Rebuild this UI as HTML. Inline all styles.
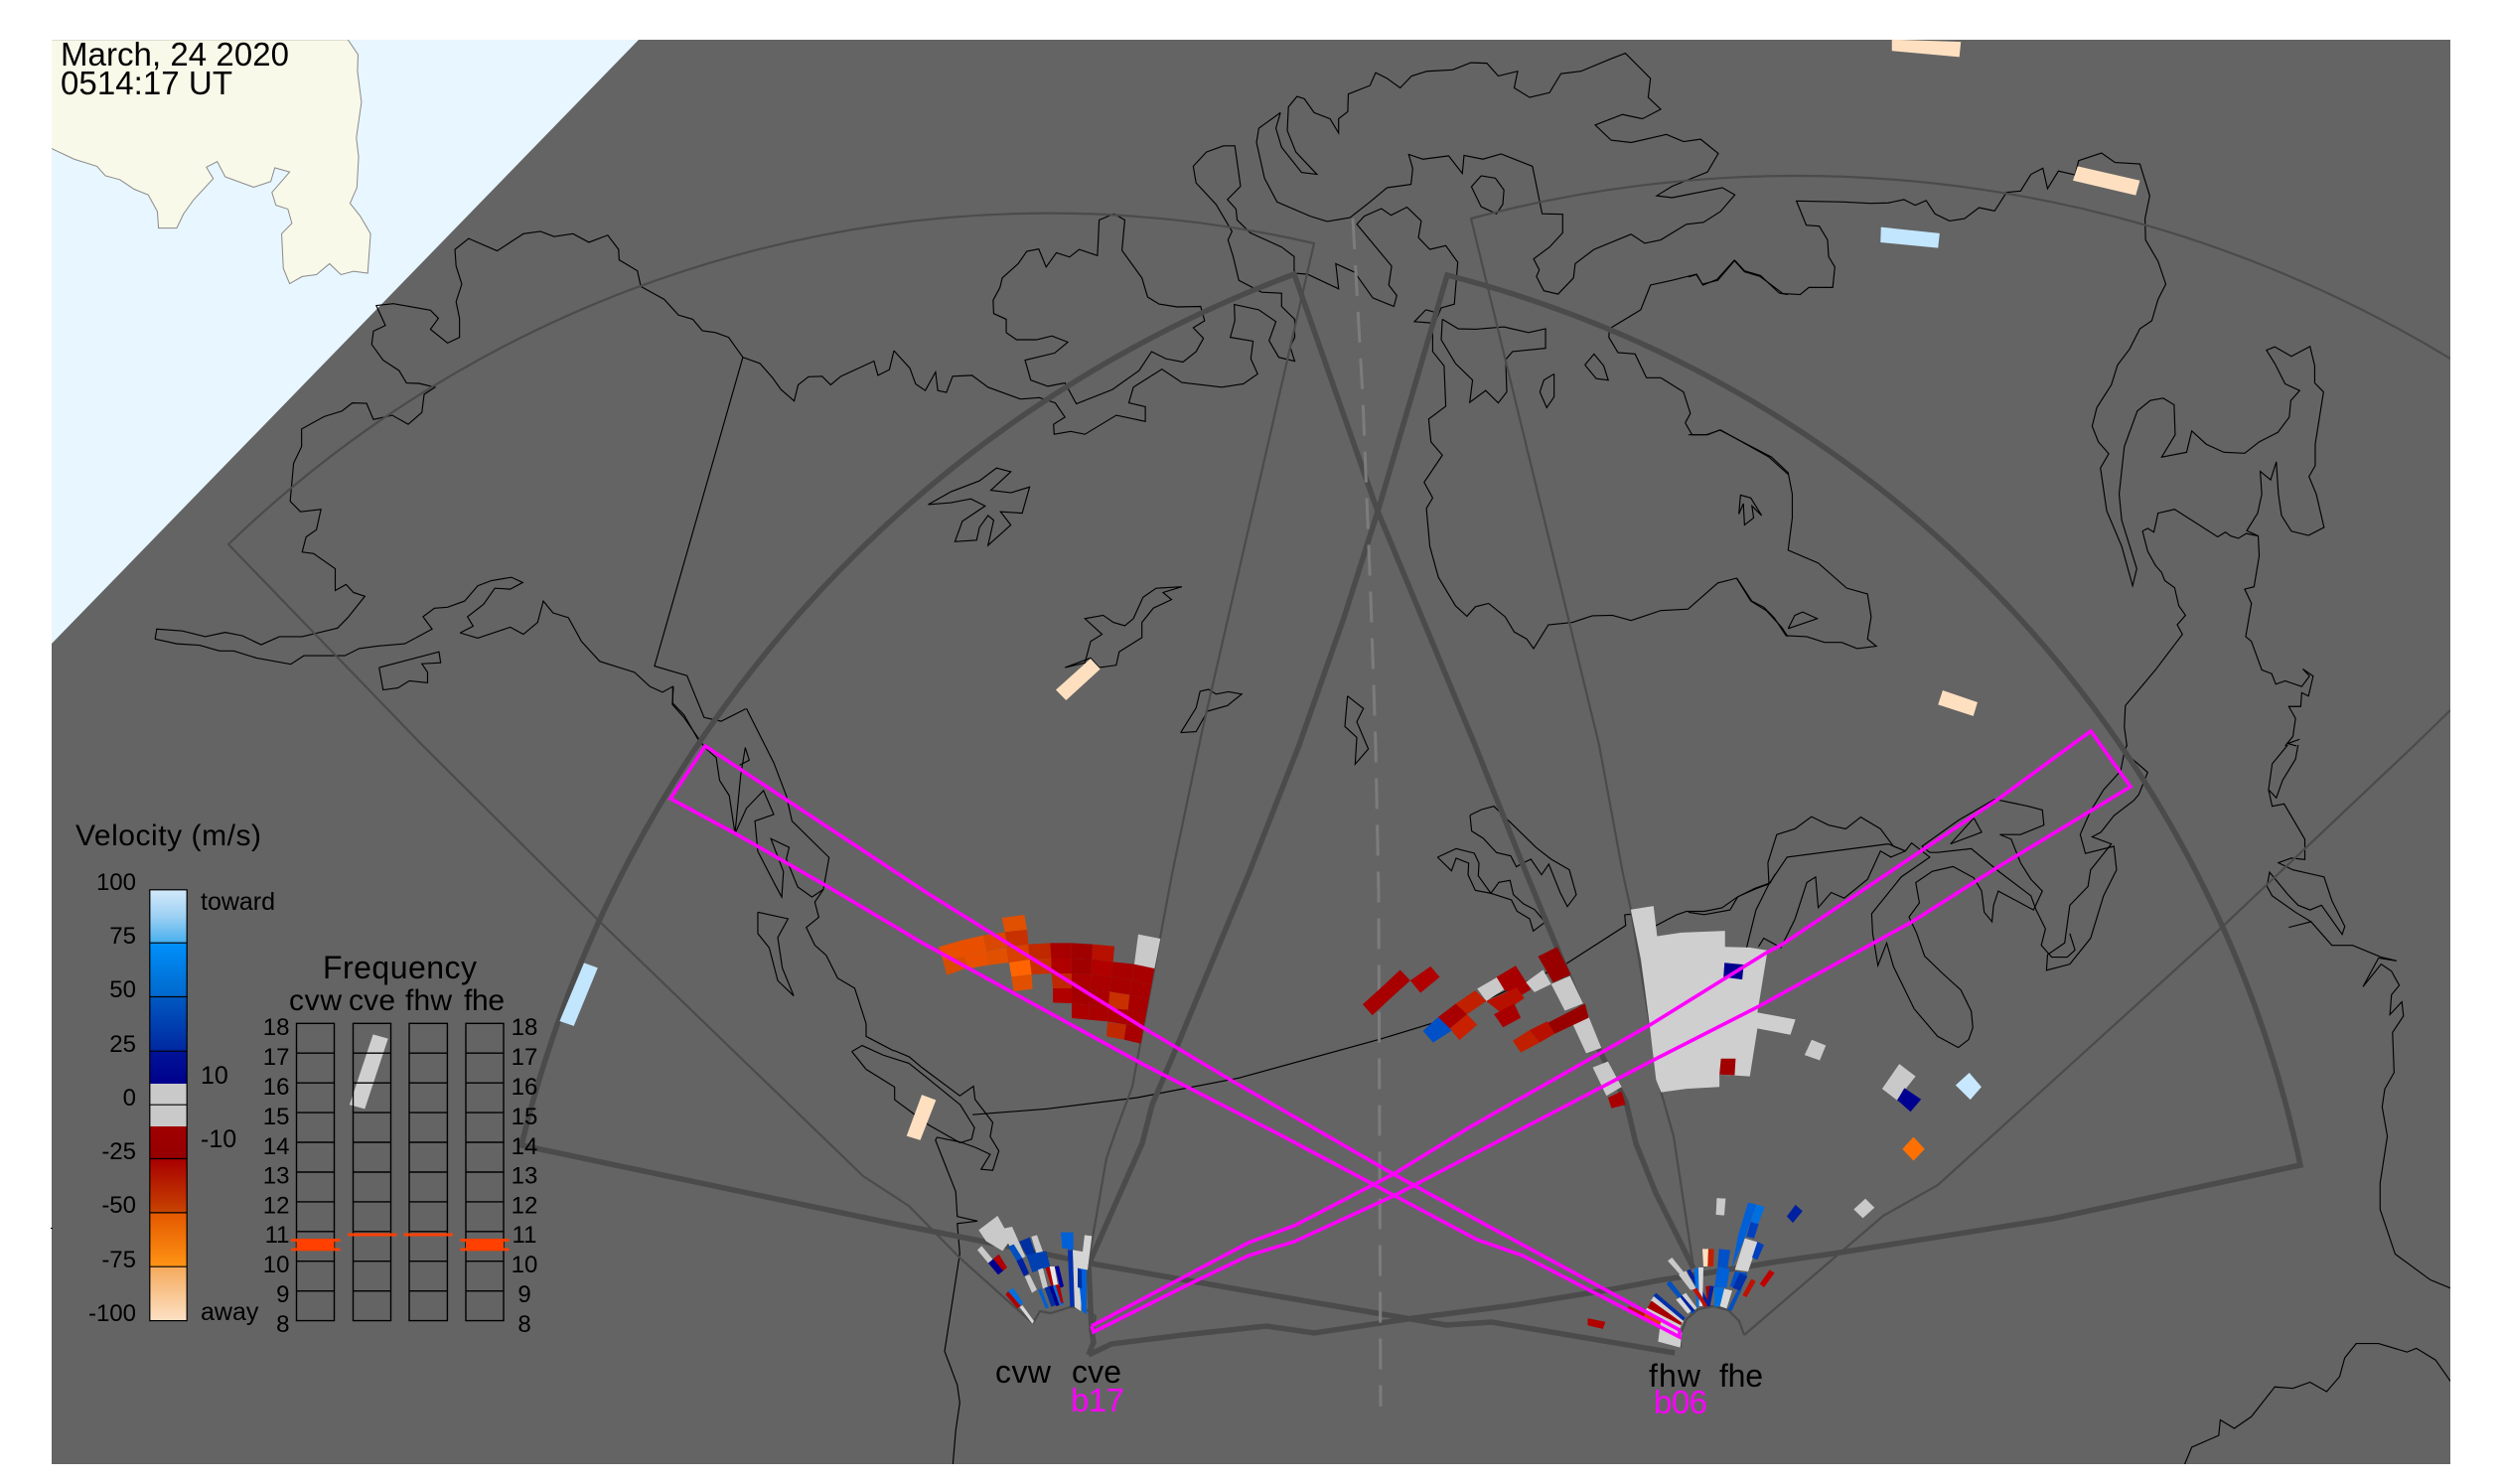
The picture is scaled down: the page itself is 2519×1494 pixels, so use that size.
<!DOCTYPE html>
<html><head><meta charset="utf-8"><title>SuperDARN velocity map</title>
<style>
html,body{margin:0;padding:0;background:#fff}
svg{display:block;font-family:"Liberation Sans",sans-serif}
.c polyline{fill:none;stroke:#000;stroke-width:1.15;vector-effect:non-scaling-stroke;stroke-linejoin:miter}
.thin{fill:none;stroke:#4b4b4b;stroke-width:2.2;stroke-linejoin:round}
.thick{fill:none;stroke:#4b4b4b;stroke-width:5.5;stroke-linejoin:miter}
.mg{fill:none;stroke:#ff00ff;stroke-width:3.6;stroke-linejoin:miter}
.g{fill:#c9c9c9}
text{fill:#000}
</style></head><body>
<svg xmlns="http://www.w3.org/2000/svg" width="2519" height="1494" viewBox="0 0 2519 1494">
<defs>
<clipPath id="plot"><rect x="52" y="40" width="2415" height="1434"/></clipPath>
<linearGradient id="g1" x1="0" y1="0" x2="0" y2="1"><stop offset="0" stop-color="#d2e9fa"/><stop offset=".5" stop-color="#9dd0f3"/><stop offset="1" stop-color="#48b0ee"/></linearGradient>
<linearGradient id="g2" x1="0" y1="0" x2="0" y2="1"><stop offset="0" stop-color="#0090fb"/><stop offset="1" stop-color="#0068cc"/></linearGradient>
<linearGradient id="g3" x1="0" y1="0" x2="0" y2="1"><stop offset="0" stop-color="#0058c0"/><stop offset="1" stop-color="#0028a0"/></linearGradient>
<linearGradient id="g4" x1="0" y1="0" x2="0" y2="1"><stop offset="0" stop-color="#001498"/><stop offset="1" stop-color="#00008c"/></linearGradient>
<linearGradient id="g5" x1="0" y1="0" x2="0" y2="1"><stop offset="0" stop-color="#a00000"/><stop offset="1" stop-color="#960000"/></linearGradient>
<linearGradient id="g6" x1="0" y1="0" x2="0" y2="1"><stop offset="0" stop-color="#a80000"/><stop offset="1" stop-color="#c84400"/></linearGradient>
<linearGradient id="g7" x1="0" y1="0" x2="0" y2="1"><stop offset="0" stop-color="#e45800"/><stop offset="1" stop-color="#ff9414"/></linearGradient>
<linearGradient id="g8" x1="0" y1="0" x2="0" y2="1"><stop offset="0" stop-color="#f5a95c"/><stop offset="1" stop-color="#fde2c6"/></linearGradient>
</defs>
<rect width="2519" height="1494" fill="#fff"/>
<rect x="52" y="40" width="2415" height="1434" fill="#646464"/>
<rect x="51" y="1236" width="2" height="1" fill="#000"/>
<g clip-path="url(#plot)">
<polygon points="52,40 643,40 52,648" fill="#e8f6ff"/>
<!-- Z4 -->
<g transform="scale(.57398,.47832)">
<polygon fill="#f9f9ea" stroke="#8a8a8a" stroke-width="1" vector-effect="non-scaling-stroke" points="610,83 628,115 627,150 634,215 625,290 629,330 626,395 614,428 632,455 650,492 645,575 620,571 598,578 578,555 555,578 530,582 508,597 497,565 494,492 512,470 505,440 484,432 477,405 508,362 482,353 475,382 445,394 395,372 381,340 362,352 374,376 340,420 322,450 310,480 278,480 276,445 260,410 235,398 210,378 185,370 170,350 130,335 91,313 60,300 60,83"/>
<g class="c">
<polyline points="272,1345 275,1324 320,1328 360,1340 395,1331 425,1338 458,1357 490,1340 530,1340 592,1322 610,1300 640,1255 620,1247 607,1230 588,1243 588,1197 550,1165 530,1162 537,1130 555,1115 563,1072 527,1077 509,1055 515,975 529,940 529,903 568,877 600,865 618,848 643,849 655,883 688,874 716,893 740,868 744,830 763,815 735,807 713,806 700,780 672,758 652,725 655,697 676,685 660,643 690,639 755,653 769,670 755,693 785,722 806,710 806,670 800,635 810,598 800,560 798,525 822,502 872,528 918,492 948,487 972,498 1005,492 1033,510 1066,495 1085,525 1086,547 1118,570 1124,603 1165,630 1190,663 1215,672 1232,696 1255,700 1278,710 1303,752 1333,765 1355,795 1370,820 1393,844 1400,810 1418,793 1442,792 1457,810 1475,792 1533,760 1540,790 1560,778 1568,738"/>
<polyline points="807,1332 830,1318 820,1298 848,1272 868,1238 895,1240 917,1226 897,1215 862,1222 838,1233 815,1265 785,1278 762,1280 742,1298 758,1324 710,1355 660,1360 630,1365 605,1380 533,1380 510,1398 450,1385 410,1370 385,1370 350,1358 310,1355 272,1345"/>
<polyline points="807,1332 838,1343 895,1320 918,1335 943,1310 953,1265 970,1290 997,1300 1020,1350 1052,1392 1113,1415 1140,1445 1162,1457 1180,1445 1180,1480 1200,1505 1230,1568"/>
<polyline points="1303,752 1148,1402 1205,1422 1235,1510 1265,1518 1308,1492"/>
<polyline points="665,1405 770,1372 773,1395 740,1397 750,1415 750,1437 718,1433 698,1448 672,1452 665,1405"/>
</g></g>
<!-- Z5 -->
<g transform="translate(900,0) scale(.57398,.47832)" class="c">
<polyline points="386,450 360,463 357,538 325,525 308,541 285,532 267,562 254,524 233,529 218,555 190,585 186,605 174,632 175,660 197,672 197,700 215,715 250,715 277,707 305,720 282,743 230,758 240,800 270,813 300,806 320,850 383,820 430,780 452,740 477,755 507,762 530,740 543,712 525,690 545,675 538,645 497,646 465,640 445,625 435,585 400,527 405,463 386,450"/>
<polyline points="0,738 28,775 38,808 55,822 73,783 77,822 92,826 103,792 137,790 165,815 222,840 255,837 283,848 300,878 280,893 281,914 310,908 335,914 390,874 441,887 441,856 412,848 420,815 470,777 505,805 575,815 613,808 638,787 626,755 630,718 590,710 598,675 597,641 640,652 670,677 658,717 675,752 703,760 695,730 703,710 703,672 680,645 680,617 645,615 605,590 595,540 586,505 593,487 565,430 530,385 525,350 548,320 578,307 598,307 608,392 585,420 600,440 602,463 625,490 680,520 702,540 702,575 725,577 780,608 775,555 808,573 840,627 877,645 882,622 868,600 873,560 812,472 825,455 855,439 872,453 900,436 925,465 920,500 940,525 968,517 989,552 983,640 960,648 945,690 945,740 965,770 968,855 938,882 942,930 962,958 930,1015 945,1048 934,1070 940,1150 955,1215 985,1275 1005,1297 1020,1277 1043,1270 1072,1298 1088,1330 1110,1345 1122,1365 1148,1315 1190,1310 1225,1296 1260,1295 1293,1306 1345,1285 1393,1282 1445,1227 1478,1217 1503,1265 1530,1285 1557,1320 1568,1340"/>
<polyline points="678,237 640,270 636,300 650,375 672,425 730,455 760,466 800,458 835,425 865,395 907,388 910,355 903,325 928,335 973,328 997,365 1000,327 1033,335 1065,324 1120,350 1137,450 1173,451 1173,490 1150,520 1122,545 1132,568 1127,582 1140,612 1165,619 1192,585 1195,555 1228,525 1293,493 1317,512 1345,505 1390,472 1420,468 1450,445 1475,410 1453,395 1365,416 1338,412 1365,392 1427,362 1446,323 1415,293 1385,298 1355,283 1293,300 1258,295 1230,263 1278,241 1313,250 1345,230 1323,205 1327,165 1283,112 1255,125 1205,150 1170,155 1150,195 1115,205 1088,185 1094,150 1060,160 1040,133 1012,132 980,147 935,150 908,160 888,185 865,165 845,153 835,180 797,198 796,235 780,250 780,280 765,250 737,237 720,208 707,203 692,225 690,275 705,320 742,367 715,363 680,310 670,270 678,237"/>
<polyline points="1030,370 1055,375 1070,400 1068,430 1057,450 1030,435 1013,393 1030,370"/>
<polyline points="1212,768 1228,745 1245,770 1253,800 1232,797 1212,768"/>
<polyline points="1158,787 1158,835 1145,858 1133,825 1140,800 1158,787"/>
<polyline points="933,652 948,657 945,680 913,677 933,652"/>
<polyline points="962,672 990,692 1020,693 1070,688 1113,700 1143,692 1143,733 1085,740 1073,757 1075,825 1060,848 1038,822 1010,847 1015,800 985,765 960,715 962,672"/>
<polyline points="1388,890 1397,870 1385,825 1345,795 1320,795 1300,745 1270,742 1254,710 1255,692 1310,652 1327,600 1365,590 1408,577 1418,598 1445,590 1475,548 1492,570 1520,580 1553,617 1568,620"/>
<polyline points="1388,890 1400,915 1425,915 1450,905 1535,962 1568,998"/>
<polyline points="1482,1082 1485,1042 1503,1048 1522,1085 1505,1065 1508,1090 1492,1105 1490,1060 1482,1082"/>
<polyline points="60,1062 100,1035 150,1012 180,985 205,993 170,1032 205,1037 238,1025 225,1080 187,1077 205,1105 165,1148 175,1095 165,1085 150,1110 145,1137 107,1140 120,1097 160,1065 135,1050 100,1058 60,1062"/>
<polyline points="300,1405 335,1395 345,1350 365,1335 335,1302 367,1295 385,1310 405,1317 420,1302 437,1257 460,1238 505,1235 472,1247 487,1262 455,1280 435,1310 435,1342 395,1372 390,1400 360,1405 345,1385 300,1405"/>
<polyline points="503,1542 530,1490 537,1455 552,1451 565,1461 587,1456 610,1461 585,1485 550,1497 530,1540 503,1542"/>
</g>
<!-- Z6 -->
<g transform="translate(1700,0) scale(.52232,.47832)" class="c">
<polyline points="93,1217 122,1265 145,1278 165,1300 188,1338 228,1340 262,1352 295,1352 325,1365 362,1360 345,1345 352,1298 345,1250 305,1238 250,1185 192,1158 200,1090 200,1040 192,995 160,962 60,905 37,915 0,915"/>
<polyline points="192,1323 205,1295 220,1288 248,1302 192,1323"/>
<polyline points="0,583 15,578 28,600 55,588 88,548 108,572 138,582 182,618 215,620 232,605 278,605 282,562 270,540 268,505 252,476 227,474 208,423 300,425 350,428 385,427 415,420 437,432 458,422 475,450 503,465 532,460 560,437 590,444 613,405 640,402 660,367 683,354 692,397 713,360 745,368 752,338 796,322 822,342 870,345 889,412 880,460 881,505 905,550 920,598 905,630 893,675 870,692 850,735 827,768 815,810 787,858 778,897 790,930 810,955 794,985 806,1075 835,1150 856,1233 864,1197 835,1095 830,1040 840,940 865,865 890,843 915,838 936,852 938,915 912,962 960,952 970,907 998,935 1032,952 1072,954 1100,930 1136,910 1158,878 1161,843 1178,822 1150,808 1130,765 1114,737 1130,730 1162,750 1198,729 1207,770 1207,806 1224,825 1208,935 1208,980 1196,1003 1210,1040 1225,1110 1195,1127 1162,1118 1143,1085 1137,1040 1133,972 1122,1010 1102,992 1105,1040 1097,1080 1076,1117 1098,1128"/>
<polyline points="875,1118 885,1112 897,1120 905,1080 937,1072 1020,1130 1035,1120 1045,1128 1060,1133 1075,1123 1098,1128 1100,1170 1090,1235 1072,1240 1085,1270 1074,1340 1085,1350 1105,1410 1124,1418 1132,1440 1150,1433 1182,1445 1197,1423 1184,1408 1204,1423 1195,1465 1182,1458 1180,1487 1157,1487 1170,1512 1165,1550 1150,1570"/>
<polyline points="875,1118 885,1160 900,1190 912,1205 918,1222 937,1237 945,1275 958,1295 942,1315 952,1335 900,1410 860,1462 842,1485 840,1530 845,1570"/>
<polyline points="1178,1556 1155,1565 1172,1570"/>
</g>
<!-- Z7 -->
<g transform="translate(1700,750) scale(.52232,.47449)" class="c">
<polyline points="0,355 30,360 80,350 95,322 130,305 155,295 153,250 170,190 205,178 237,152 270,170 303,178 332,153 370,178 395,215 418,225"/>
<polyline points="112,430 130,350 155,295 190,238 385,210 418,225 430,208 465,238 410,280 353,358 355,400 365,468 382,420 395,470 435,560 480,618 520,642 540,625 548,600 545,565 525,520 490,485 455,448 440,400 425,365 445,335 438,292 470,268 510,258 550,282 565,310 570,355 585,375 588,340 597,310 665,350 682,310 660,285 640,250 622,200 600,190 640,190 685,170 682,138 655,130 590,115 520,160 450,215 465,228 480,228 545,220 600,270 660,320 670,350 688,390 680,425 700,450 730,450 745,435 735,400"/>
<polyline points="418,225 390,238 370,225 345,285 300,325 275,313 250,345 245,280 228,292 205,370 178,430 145,410 135,428"/>
<polyline points="550,155 565,185 505,210 550,155"/>
<polyline points="845,0 840,15 885,58 868,105 858,118 820,150 795,185 778,195 815,210 775,265 770,300 735,340 725,420 692,445 690,478 735,465 775,410 800,320 825,265 820,215 765,230 755,190 775,140 800,95 833,55 840,15"/>
<polyline points="1155,0 1125,40 1118,95 1125,130 1148,125 1188,200 1188,243 1162,240 1137,250 1165,265 1225,280 1240,330 1265,385 1260,402 1220,340 1198,350 1175,340 1155,317 1120,270 1115,300 1125,320 1170,355 1200,375 1157,387 1200,375 1240,425 1280,425 1335,450 1365,458 1330,452 1300,513 1335,465 1355,480 1370,510 1355,530 1352,572 1375,545 1378,575 1357,610 1360,695 1342,730 1337,768 1347,830 1333,930 1333,985 1362,1080 1430,1135 1470,1153"/>
<polyline points="1175,0 1170,30 1145,75 1133,112 1118,95"/>
<polyline points="956,1527 970,1490 1022,1465 1025,1432 1052,1450 1085,1425 1130,1362 1165,1365 1198,1352 1230,1372 1255,1340 1265,1300 1287,1270 1330,1270 1385,1288 1403,1280 1440,1305 1470,1352"/>
</g>
<!-- Z8 -->
<g transform="translate(100,500) scale(.57398,.5102)" class="c">
<polyline points="1007,375 1005,410 1025,435 1062,495 1082,515 1088,560 1105,590 1115,665 1125,550 1133,495 1140,520 1123,530"/>
<polyline points="1115,665 1135,615 1165,580 1183,627 1150,640 1155,700 1185,765 1197,790 1200,740 1178,675 1210,692 1205,715 1225,770 1250,790 1270,775 1280,712 1215,640 1205,590 1183,525 1135,418"/>
<polyline points="1270,775 1255,800 1262,830 1240,850 1255,885 1275,905 1295,950 1325,970 1345,1040 1345,1065 1394,1094"/>
<polyline points="1155,820 1208,833 1190,870 1198,930 1218,985 1190,955 1175,890 1155,862 1155,820"/>
<polyline points="1320,1095 1338,1083 1375,1102 1420,1118 1450,1145 1510,1200 1535,1245 1530,1268 1510,1275 1455,1240 1395,1190 1395,1165 1345,1130 1320,1095"/>
</g>
<!-- Z2 -->
<g transform="translate(900,880) scale(.5102,.35714)" class="c">
<polyline points="0,497 30,515 55,545 130,625 157,598 160,635 195,700 190,740 207,780 195,835 172,832 190,790 160,770 130,755 85,742 82,750 122,895 125,965 165,978 125,985 130,1070 100,1345 125,1440 130,1490 122,1568 116,1670"/>
<polyline points="155,678 300,662 480,630 680,575 960,465 1075,415"/>
</g>
<!-- Z3 -->
<g transform="translate(1300,880) scale(.5102,.35714)" class="c">
<polyline points="291,415 540,255 660,145 658,115 668,113 720,145 760,115 780,105 815,105 850,95 880,65 915,40 945,25 955,0"/>
</g>
<!-- Z11 -->
<g transform="translate(1340,690) scale(.33333)" class="c">
<polyline points="420,392 455,375 492,365 540,412 620,490 665,525 720,557 741,632 714,668 692,625 658,540 636,572 604,525 573,540 560,548 543,515 500,505 460,462 425,440 420,392"/>
<polyline points="322,519 378,493 433,507 447,537 445,575 483,628 507,595 541,589 551,632 582,660 615,677 647,715 611,742 600,705 562,682 545,648 483,628 436,619 414,572 416,537 378,522 364,560 322,519"/>
<polyline points="50,32 98,70 78,110 113,192 73,238 78,157 42,124 50,32"/>
</g>

<!-- thin FOVs -->
<path class="thin" d="M1096,1269 L1114,1166 1124,1137 1140,1094 1180,880 1210,737 1323,245 A1190,1190 0 0 0 230,548 L425,750 605,929 869,1184 915,1214 966,1266 1015,1310 1040,1332"/>
<polyline class="thin" points="1040,1332 1047,1320 1057,1322 1058,1322 1077,1316 1090,1316 1103,1325 1101,1339 1100,1350"/>
<path class="thin" d="M1705,1276 L1685,1144 1672,1098 1642,916 1634,880 1610,750 1481,220 A1270,1270 0 0 1 2467,361"/>
<polyline class="thin" points="1756,1344 1896,1224 1951,1193 2230,940 2431,750 2467,715"/>
<polyline class="thin" points="1692,1357 1692,1343 1698,1328 1710,1318 1725,1315 1740,1319 1751,1330 1756,1344"/>
<!-- thick FOVs -->
<path class="thick" d="M1686,1362 L1502,1331 1456,1334 1275,1303 1104,1273 966,1245 900,1232 525,1153 A1250,1250 0 0 1 1303,276 L1386,512 1485,750 1537,880 1611,1059 1637,1109 1647,1151 1667,1201 1705,1277"/>
<path class="thick" d="M1096,1364 L1101,1351 1099,1339 1096,1273 1150,1151 1160,1112 1186,1051 1257,880 1308,750 1353,622 1388,512 1457,277 A1175,1175 0 0 1 2316,1173 L2066,1227 1846,1262 1790,1270 1710,1283 1670,1289 1623,1298 1524,1314 1423,1327 1323,1342 1275,1335 1191,1344 1119,1353 1096,1364"/>
<!-- dashed -->
<polyline points="1362,220 1372,400 1380,600 1385,750 1388,900 1390,1416" fill="none" stroke="#7c7c7c" stroke-width="3" stroke-dasharray="31 16"/>
</g>

<!-- Small data Z-groups -->
<g transform="translate(900,0) scale(.57398,.47832)"><polygon points="345,1386 362,1408 302,1474 284,1452" fill="#fee0c1"/></g>
<g transform="translate(1700,0) scale(.52232,.47832)">
<polygon points="392,83 525,88 522,120 392,107" fill="#fee0c1"/>
<polygon points="750,350 870,380 862,411 741,380" fill="#fee0c1"/>
<polygon points="371,478 484,491 481,522 370,510" fill="#c3e6ff"/>
<polygon points="490,1453 557,1478 549,1507 481,1483" fill="#fee0c1"/>
</g>
<g transform="translate(900,880) scale(.5102,.35714)"><polygon points="55,622 83,637 52,750 25,738" fill="#fee0c1"/></g>
<g transform="translate(0,780) scale(.39541,.38265)"><polygon points="1487,495 1522,508 1461,661 1425,648" fill="#c3e6ff"/></g>

<!-- Z12 red patch -->
<g transform="translate(930,900) scale(.33333)">
<polygon fill="#e85000" points="45,160 115,140 125,188 60,205"/>
<polygon fill="#d84c00" points="58,200 125,188 135,222 70,245"/>
<polygon fill="#e85000" points="115,140 180,125 190,172 122,188"/>
<polygon fill="#e85000" points="122,188 190,172 195,215 135,225"/>
<polygon fill="#d84800" points="180,125 245,115 255,160 190,172"/>
<polygon fill="#e05000" points="190,172 250,162 257,207 195,215"/>
<polygon fill="#e05000" points="236,72 304,63 312,108 245,115"/>
<polygon fill="#c83000" points="245,115 312,108 316,152 255,160"/>
<polygon fill="#d84000" points="250,162 316,152 322,198 257,207"/>
<polygon fill="#ff6400" points="258,207 322,198 326,243 265,250"/>
<polygon fill="#e05000" points="265,250 326,243 329,287 272,294"/>
<polygon fill="#c02800" points="316,152 382,148 385,195 320,197"/>
<polygon fill="#c83000" points="320,197 385,195 386,240 326,243"/>
<polygon fill="#a80000" points="382,148 446,148 446,195 385,195"/>
<polygon fill="#a00000" points="446,148 510,152 508,197 446,195"/>
<polygon fill="#b81000" points="510,152 576,158 572,205 508,197"/>
<polygon fill="#b00000" points="385,195 446,195 447,240 386,240"/>
<polygon fill="#a00000" points="446,195 508,197 505,243 447,240"/>
<polygon fill="#b00000" points="508,197 572,205 566,250 505,243"/>
<polygon fill="#c02800" points="386,240 447,240 447,285 390,285"/>
<polygon fill="#aa0000" points="447,240 505,243 503,290 447,285"/>
<polygon fill="#aa0000" points="505,243 566,250 562,295 503,290"/>
<polygon fill="#a80000" points="572,205 635,212 630,262 566,250"/>
<polygon fill="#a80000" points="635,212 697,225 688,275 630,262"/>
<polygon fill="#b00000" points="390,285 447,285 447,330 390,328"/>
<polygon fill="#a40000" points="447,285 503,290 500,335 447,332"/>
<polygon fill="#aa0000" points="503,290 562,295 558,345 500,335"/>
<polygon fill="#a80000" points="566,250 630,262 622,305 562,295"/>
<polygon fill="#a80000" points="630,262 688,275 680,318 622,305"/>
<polygon fill="#c83000" points="562,295 622,305 617,350 558,345"/>
<polygon fill="#a80000" points="622,305 680,318 672,362 617,350"/>
<polygon fill="#aa0000" points="447,332 500,335 500,380 447,375"/>
<polygon fill="#aa0000" points="500,335 558,345 555,385 500,380"/>
<polygon fill="#aa0000" points="558,345 617,350 612,395 555,385"/>
<polygon fill="#aa0000" points="617,350 672,362 665,397 612,395"/>
<polygon fill="#c02800" points="555,387 612,395 605,440 552,430"/>
<polygon fill="#a80000" points="612,395 665,397 656,452 605,440"/>
<polygon class="g" points="648,122 715,135 697,225 636,212"/>
</g>

<!-- Z3 data -->
<g transform="translate(1300,880) scale(.5102,.35714)">
<polygon fill="#a80000" points="141,367 185,310 215,270 235,300 200,345 160,398"/>
<polygon fill="#b00000" points="235,300 275,260 293,290 255,335"/>
<polygon fill="#0050c8" points="260,442 290,403 318,440 280,475"/>
<polygon fill="#a80000" points="290,403 325,365 347,395 313,435"/>
<polygon fill="#c02000" points="325,365 363,328 385,358 347,395"/>
<polygon fill="#c82000" points="313,435 347,395 367,425 332,468"/>
<polygon class="g" points="367,323 407,290 420,325 385,358"/>
<polygon fill="#a80000" points="405,290 443,258 473,325 445,350 420,325"/>
<polygon fill="#b81000" points="385,358 445,320 460,350 415,392"/>
<polygon fill="#a80000" points="400,395 440,365 453,405 418,432"/>
<polygon class="g" points="463,305 497,270 513,310 480,333"/>
<polygon fill="#980000" points="487,232 525,205 552,283 517,306"/>
<polygon class="g" points="513,310 550,287 576,365 540,385"/>
<polygon class="g" points="553,415 587,402 612,490 582,505"/>
<polygon fill="#980000" points="505,420 580,365 587,405 520,450"/>
<polygon fill="#b81000" points="470,440 505,415 520,450 490,475"/>
<polygon fill="#c02000" points="437,470 470,440 490,475 453,503"/>
<polygon class="g" points="595,545 625,528 652,600 622,625"/>
<polygon fill="#a80000" points="625,630 652,612 660,650 632,660"/>
<polygon fill="#cfcfcf" points="670,100 715,90 722,175 770,165 856,160 856,205 905,207 940,215 920,390 995,410 985,453 920,435 905,570 845,565 845,600 780,605 730,615 720,580 705,400 690,240"/>
<polygon fill="#000090" points="855,250 893,255 890,297 853,290"/>
<polygon fill="#a00000" points="848,520 877,520 875,567 845,565"/>
<polygon class="g" points="1027,467 1055,483 1043,525 1013,510"/>
<polygon class="g" points="1200,535 1232,570 1195,637 1166,605"/>
<polygon fill="#000090" points="1210,603 1243,635 1222,670 1196,637"/>
<polygon fill="#c8e8ff" points="1338,560 1362,600 1340,636 1311,595"/>
<polygon fill="#ff7000" points="1228,741 1250,775 1228,808 1206,775"/>
<polygon class="g" points="840,913 857,915 853,962 838,960"/>
<polygon fill="#0020a0" points="995,932 1009,950 990,983 978,965"/>
<polygon class="g" points="1133,915 1151,940 1128,970 1110,945"/>
<polygon fill="#b00000" points="585,1252 620,1262 615,1282 585,1272"/>
</g>

<!-- Z9 cv fan -->
<g transform="translate(970,1210) scale(.33333)">
<polygon class="g" points="46,85 103,42 124,80 147,75 187,165 163,178 135,125 118,148 68,118"/>
<polygon fill="#0050c0" points="135,135 152,128 178,170 162,180"/>
<polygon fill="#0020a0" points="160,178 178,170 198,215 183,225"/>
<polygon class="g" points="185,225 200,220 222,265 207,275"/>
<polygon class="g" points="42,145 55,133 90,175 75,185"/>
<polygon fill="#b00000" points="90,172 107,158 132,198 118,210"/>
<polygon fill="#000090" points="75,185 90,172 120,208 105,220"/>
<polygon fill="#0030a0" points="168,120 200,107 217,155 192,165"/>
<polygon class="g" points="205,105 222,100 240,150 220,155"/>
<polygon fill="#0040b0" points="190,160 250,148 262,195 208,213"/>
<polygon class="g" points="225,205 240,200 255,258 240,262"/>
<polygon fill="#b00000" points="248,200 260,195 276,252 265,255"/>
<polygon fill="#e8e8e8" points="260,195 275,195 285,250 272,252"/>
<polygon fill="#0000a0" points="276,195 288,193 303,255 292,260"/>
<polygon fill="#0060d0" points="225,265 235,262 258,320 248,322"/>
<polygon fill="#0030a0" points="245,260 258,255 280,312 265,317"/>
<polygon fill="#000090" points="258,255 270,253 290,312 280,315"/>
<polygon fill="#0070e0" points="270,253 285,250 304,310 292,312"/>
<polygon fill="#b00000" points="278,250 290,250 302,305 295,307"/>
<polygon fill="#0070e0" points="150,260 180,305 172,313 135,270"/>
<polygon fill="#b00000" points="127,280 135,270 172,313 163,322"/>
<polygon fill="#d8d8d8" points="170,318 178,312 213,360 208,368"/>
<polygon fill="#0060d8" points="294,92 332,92 332,145 298,140"/>
<polygon fill="#0030b0" points="315,145 330,145 335,315 322,318"/>
<polygon fill="#d4d4d4" points="330,145 360,150 366,100 388,103 375,205 358,205 355,330 336,318"/>
<polygon fill="#0060d8" points="345,200 372,205 372,340 358,330"/>
<polygon fill="#0030a0" points="345,200 357,205 358,262 345,258"/>
</g>

<!-- Z10 fh fan -->
<g transform="translate(1610,1200) scale(.33333)">
<polygon fill="#cfcfcf" points="178,452 186,390 250,425 245,470"/>
<polygon fill="#c01000" points="82,357 90,345 140,368 133,380"/>
<polygon fill="#e04000" points="133,378 140,368 188,392 182,402"/>
<polygon fill="#0030a8" points="163,315 172,305 260,380 252,392"/>
<polygon fill="#d0d0d0" points="155,330 165,315 255,390 248,402"/>
<polygon fill="#a80000" points="145,352 158,328 250,395 245,405"/>
<polygon fill="#d0d0d0" points="135,365 145,350 248,403 243,415"/>
<polygon fill="#0050c0" points="203,278 215,268 290,362 280,368"/>
<polygon fill="#d8d8d8" points="232,325 245,318 278,360 268,368"/>
<polygon fill="#d0d0d0" points="250,312 262,305 295,350 287,358"/>
<polygon fill="#0020a0" points="245,318 250,312 290,358 280,362"/>
<polygon class="g" points="207,208 220,198 258,245 245,250"/>
<polygon class="g" points="240,250 262,238 295,295 275,295"/>
<polygon fill="#0020a0" points="265,238 275,233 338,345 325,345"/>
<polygon fill="#0070e0" points="287,232 300,228 302,345 295,350"/>
<polygon fill="#d8d8d8" points="300,228 315,228 312,345 302,345"/>
<polygon fill="#c01000" points="283,295 295,290 328,345 318,348"/>
<polygon fill="#a80000" points="322,285 335,283 335,325 325,325"/>
<polygon fill="#0020a0" points="335,283 347,285 335,345 325,345"/>
<polygon fill="#fee0c1" points="312,172 330,172 328,225 315,225"/>
<polygon fill="#c02000" points="330,172 347,172 345,225 328,225"/>
<polygon fill="#0050c8" points="362,172 396,176 388,230 358,226"/>
<polygon fill="#0060d8" points="358,226 395,232 385,290 348,288"/>
<polygon fill="#0070e0" points="348,288 378,292 365,345 348,347"/>
<polygon fill="#d8d8d8" points="365,345 378,292 402,298 385,352"/>
<polygon fill="#0050c0" points="388,355 420,292 430,295 400,360"/>
<polygon fill="#0060d8" points="450,32 475,38 440,140 400,232 420,130"/>
<polygon fill="#0070e0" points="475,38 500,45 480,97 458,92"/>
<polygon fill="#0040c0" points="458,90 482,97 468,140 445,135"/>
<polygon fill="#d4d4d4" points="440,140 480,152 450,240 410,235"/>
<polygon fill="#0040c0" points="478,150 498,160 478,205 462,198"/>
<polygon fill="#0050c8" points="410,240 448,245 430,295 395,285"/>
<polygon fill="#0030a8" points="425,245 448,255 425,298 403,290"/>
<polygon fill="#c01000" points="460,262 473,270 445,318 433,312"/>
<polygon fill="#c00000" points="515,235 530,245 498,288 485,278"/>
<polygon class="g" points="355,20 382,20 378,70 355,68"/>
</g>

<!-- magenta beams -->
<polyline class="mg" points="1099,1335 1257,1251 1303,1234 1403,1182 1481,1134 1661,1032 1777,960 1794,951 2011,805 2105,736 2145,792 2013,872 1925,928 1771,1013 1667,1066 1405,1203 1303,1250 1257,1264 1201,1291 1101,1341 1099,1335"/>
<polyline class="mg" points="1691,1339 1494,1232 1403,1182 1242,1089 1150,1034 935,900 710,751 675,804 740,839 829,890 930,950 1150,1071 1288,1142 1382,1192 1487,1248 1533,1264 1691,1346 1691,1339"/>

<!-- map labels -->
<text x="1002" y="1392" font-size="32" textLength="56">cvw</text>
<text x="1079" y="1392" font-size="32" textLength="50">cve</text>
<text x="1078" y="1421" font-size="33" style="fill:#ff00ff" textLength="54">b17</text>
<text x="1660" y="1396" font-size="32" textLength="52">fhw</text>
<text x="1731" y="1396" font-size="32" textLength="44">fhe</text>
<text x="1665" y="1423" font-size="33" style="fill:#ff00ff" textLength="54">b06</text>
<text x="61" y="66" font-size="33" textLength="230">March, 24 2020</text>
<text x="61" y="95" font-size="33" textLength="173">0514:17 UT</text>

<!-- colorbar -->
<text x="76" y="851" font-size="30" textLength="187">Velocity (m/s)</text>
<rect x="151" y="896" width="37" height="53" fill="url(#g1)"/>
<rect x="151" y="949" width="37" height="55" fill="url(#g2)"/>
<rect x="151" y="1004" width="37" height="54" fill="url(#g3)"/>
<rect x="151" y="1058" width="37" height="33" fill="url(#g4)"/>
<rect x="151" y="1091" width="37" height="43" fill="#c9c9c9"/>
<rect x="151" y="1134" width="37" height="33" fill="url(#g5)"/>
<rect x="151" y="1167" width="37" height="54" fill="url(#g6)"/>
<rect x="151" y="1221" width="37" height="54" fill="url(#g7)"/>
<rect x="151" y="1275" width="37" height="55" fill="url(#g8)"/>
<g stroke="#000" stroke-width="1.2">
<line x1="151" x2="188" y1="949.2" y2="949.2"/><line x1="151" x2="188" y1="1003.5" y2="1003.5"/><line x1="151" x2="188" y1="1058.2" y2="1058.2"/><line x1="151" x2="188" y1="1112.2" y2="1112.2"/><line x1="151" x2="188" y1="1166.5" y2="1166.5"/><line x1="151" x2="188" y1="1220.9" y2="1220.9"/><line x1="151" x2="188" y1="1275.2" y2="1275.2"/>
</g>
<rect x="150.8" y="895.8" width="37.4" height="433.8" fill="none" stroke="#000" stroke-width="1.2"/>
<g font-size="24" text-anchor="end">
<text x="137" y="896">100</text><text x="137" y="950">75</text><text x="137" y="1004">50</text><text x="137" y="1059">25</text><text x="137" y="1113">0</text><text x="137" y="1167">-25</text><text x="137" y="1221">-50</text><text x="137" y="1276">-75</text><text x="137" y="1330">-100</text>
</g>
<g font-size="25">
<text x="202" y="916">toward</text><text x="202" y="1091">10</text><text x="202" y="1155">-10</text><text x="202" y="1329">away</text>
</g>

<!-- frequency -->
<text x="325" y="985" font-size="32" textLength="155">Frequency</text>
<g font-size="30">
<text x="291" y="1017" textLength="53">cvw</text><text x="351" y="1017" textLength="47">cve</text><text x="408" y="1017" textLength="47">fhw</text><text x="467" y="1017" textLength="41">fhe</text>
</g>
<polygon points="375.6,1041.4 390.7,1045.6 367.3,1116.4 351.9,1112.2" fill="#cfcfcf"/>
<g fill="none" stroke="#000" stroke-width="1.4">
<path d="M298.5 1030.3H336.5V1329.6H298.5ZM298.5 1060.2H336.5M298.5 1090.2H336.5M298.5 1120.1H336.5M298.5 1150H336.5M298.5 1180H336.5M298.5 1209.9H336.5M298.5 1239.8H336.5M298.5 1269.7H336.5M298.5 1299.7H336.5"/>
<path d="M355.5 1030.3H393.5V1329.6H355.5ZM355.5 1060.2H393.5M355.5 1090.2H393.5M355.5 1120.1H393.5M355.5 1150H393.5M355.5 1180H393.5M355.5 1209.9H393.5M355.5 1239.8H393.5M355.5 1269.7H393.5M355.5 1299.7H393.5"/>
<path d="M412 1030.3H450.4V1329.6H412ZM412 1060.2H450.4M412 1090.2H450.4M412 1120.1H450.4M412 1150H450.4M412 1180H450.4M412 1209.9H450.4M412 1239.8H450.4M412 1269.7H450.4M412 1299.7H450.4"/>
<path d="M469 1030.3H507V1329.6H469ZM469 1060.2H507M469 1090.2H507M469 1120.1H507M469 1150H507M469 1180H507M469 1209.9H507M469 1239.8H507M469 1269.7H507M469 1299.7H507"/>
</g>
<g fill="#ff4000">
<rect x="298.5" y="1247" width="38" height="12"/><rect x="293" y="1247" width="49.5" height="3"/><rect x="293" y="1256.5" width="49.5" height="2.8"/>
<rect x="350" y="1241.5" width="49.5" height="3"/><rect x="406.5" y="1241.5" width="49.5" height="3"/>
<rect x="469" y="1247" width="38" height="12"/><rect x="463.4" y="1247" width="49.2" height="3"/><rect x="463.4" y="1256.5" width="49.2" height="2.8"/>
</g>
<g font-size="24" text-anchor="end">
<text x="291.5" y="1042">18</text><text x="291.5" y="1072">17</text><text x="291.5" y="1102">16</text><text x="291.5" y="1132">15</text><text x="291.5" y="1162">14</text><text x="291.5" y="1191.5">13</text><text x="291.5" y="1221.5">12</text><text x="291.5" y="1251">11</text><text x="291.5" y="1281">10</text><text x="291.5" y="1311">9</text><text x="291.5" y="1341">8</text>
</g>
<g font-size="24" text-anchor="middle">
<text x="528" y="1042">18</text><text x="528" y="1072">17</text><text x="528" y="1102">16</text><text x="528" y="1132">15</text><text x="528" y="1162">14</text><text x="528" y="1191.5">13</text><text x="528" y="1221.5">12</text><text x="528" y="1251">11</text><text x="528" y="1281">10</text><text x="528" y="1311">9</text><text x="528" y="1341">8</text>
</g>
</svg>
</body></html>
